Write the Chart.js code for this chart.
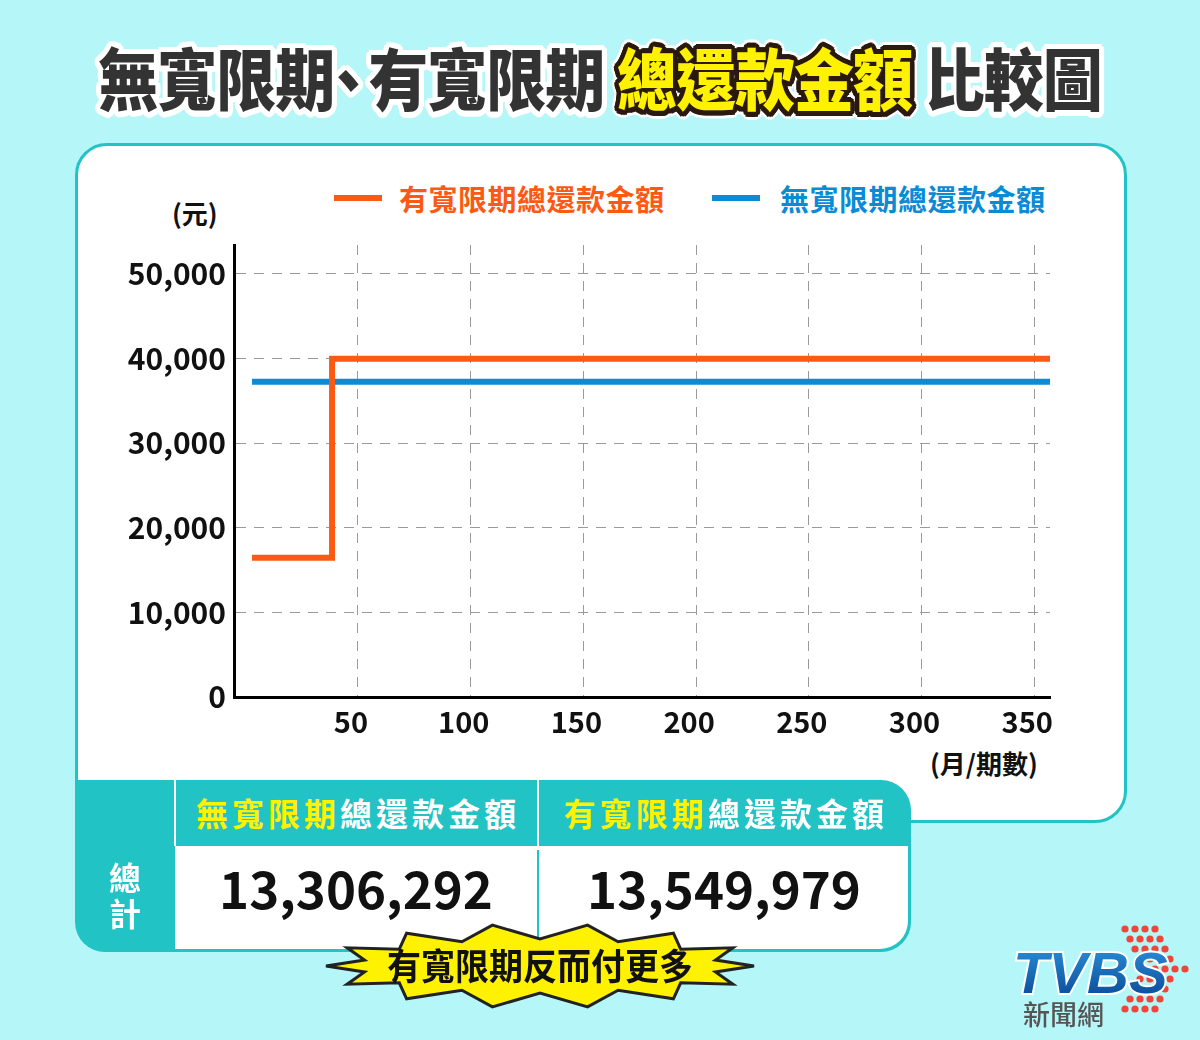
<!DOCTYPE html>
<html>
<head>
<meta charset="utf-8">
<script src="https://cdn.jsdelivr.net/npm/chart.js@4.4.1/dist/chart.umd.min.js"></script>
<style>
  html, body { margin: 0; padding: 0; }
  body {
    width: 1200px; height: 1040px; position: relative; overflow: hidden;
    background: #b5f6f8;
    font-family: "Noto Sans CJK TC", "Noto Sans CJK SC", sans-serif;
  }
  .abs { position: absolute; }
  #title {
    left: 0; width: 1200px; top: 32px; text-align: center;
    font-size: 60px; font-weight: 900; letter-spacing: -1px; white-space: nowrap;
    transform: scaleY(1.12);
  }
  #title .dark { color: #333; }
  #title .yel { color: #fff200; }
  #panel {
    left: 75px; top: 143px; width: 1046px; height: 674px;
    background: #fff; border: 3px solid #22c3c5; border-radius: 32px;
  }
  #chart-wrap { left: 0; top: 0; width: 1200px; height: 1040px; }
  .unit { font-weight: 700; font-size: 26px; color: #111; }
  .leg-line { height: 6px; width: 48px; }
  .leg-text { font-size: 29px; font-weight: 700; white-space: nowrap; letter-spacing: 0.5px; }
  #table { left: 75px; top: 780px; width: 836px; height: 172px; background: #22c3c5; border-radius: 0 30px 30px 30px; }
  .cell { position: absolute; text-align: center; white-space: nowrap; }
  .head { font-size: 32px; font-weight: 700; color: #fff; top: 9px; letter-spacing: 4px; }
  .head b { color: #fff200; font-weight: 700; }
  .num { font-size: 51px; font-weight: 700; color: #111; top: 70px; }
</style>
</head>
<body>
<div id="title" class="abs"></div>
<div id="panel" class="abs"></div>

<div class="abs unit" style="left:172px; top:194px;">(元)</div>
<div class="abs leg-line" style="left:334px; top:195px; background:#fc5a14;"></div>
<div class="abs leg-text" style="left:399px; top:177px; color:#fc5a14;">有寬限期總還款金額</div>
<div class="abs leg-line" style="left:712px; top:195px; background:#0b8ad6;"></div>
<div class="abs leg-text" style="left:780px; top:177px; color:#0b8ad6;">無寬限期總還款金額</div>
<div class="abs unit" style="left:930px; top:744px;">(月/期數)</div>

<div id="chart-wrap" class="abs"><canvas id="c"></canvas></div>

<div id="table" class="abs">
  <div class="abs" style="left:100px; top:66px; width:733px; height:103px; background:#fff; border-radius:0 0 28px 0;"></div>
  <div class="abs" style="left:99px; top:0; width:2px; height:66px; background:#fff;"></div>
  <div class="abs" style="left:462px; top:0; width:2px; height:66px; background:#fff;"></div>
  <div class="abs" style="left:462px; top:70px; width:2px; height:99px; background:#22c3c5;"></div>
  <div class="cell head" style="left:102px; width:362px;"><b>無寬限期</b>總還款金額</div>
  <div class="cell head" style="left:466px; width:370px;"><b>有寬限期</b>總還款金額</div>
  <div class="cell" style="left:0; width:100px; top:78px; font-size:32px; font-weight:700; color:#fff; line-height:36px;">總<br>計</div>
  <div class="cell num" style="left:100px; width:362px;" id="sum1"></div>
  <div class="cell num" style="left:464px; width:370px;" id="sum2"></div>
</div>

<svg class="abs" style="left:0; top:0;" width="1200" height="1040">
  <polygon id="burst" fill="#fff200" stroke="#222" stroke-width="3"></polygon>
</svg>
<div class="abs" style="left:330px; width:420px; top:940px; text-align:center; font-size:34px; font-weight:700; color:#111; transform:scaleY(1.08);">有寬限期反而付更多</div>

<canvas id="logo" class="abs" style="left:995px; top:915px;" width="205" height="125"></canvas>

<script>
// data
const monthTicks = [50, 100, 150, 200, 250, 300, 350];
const amountTicks = [0, 10000, 20000, 30000, 40000, 50000];
const graceMonths = [3, 38.5, 38.5, 357];
const graceAmounts = [16450, 16450, 39950, 39950];
const noGraceMonths = [3, 357];
const noGraceAmounts = [37250, 37250];
const totalNoGrace = 13306292;
const totalGrace = 13549979;

document.getElementById('sum1').textContent = totalNoGrace.toLocaleString('en-US');
document.getElementById('sum2').textContent = totalGrace.toLocaleString('en-US');

// title with outlines
function outline(r, color) {
    let out = [];
    for (let a = 0; a < 360; a += 20) {
        const rad = a * Math.PI / 180;
        out.push((r * Math.cos(rad)).toFixed(1) + 'px ' + (r * Math.sin(rad)).toFixed(1) + 'px 0 ' + color);
    }
    return out;
}
const title = document.getElementById('title');
title.innerHTML = '<span class="dark">無寬限期</span><span class="dark" style="margin-left:-16px; letter-spacing:-10px;">、</span><span class="dark">有寬限期</span> <span class="yel">總還款金額</span> <span class="dark">比較圖</span>';
title.querySelectorAll('.dark').forEach(function(el) {
    el.style.textShadow = outline(3, '#fff').concat(outline(5, '#fff')).join(',');
});
title.querySelectorAll('.yel').forEach(function(el) {
    el.style.textShadow = outline(2.5, '#2a1a10').concat(outline(4.5, '#2a1a10')).concat(outline(7, '#fff')).join(',');
});

// starburst behind the note
(function() {
    const cx = 540, cy = 966, spikes = 14;
    const pts = [];
    for (let i = 0; i < spikes * 2; i++) {
        const ang = Math.PI * i / spikes;
        const outer = i % 2 === 0;
        const rx = outer ? 214 : 180;
        const ry = outer ? 42 : 27;
        pts.push((cx + rx * Math.cos(ang)).toFixed(1) + ',' + (cy + ry * Math.sin(ang)).toFixed(1));
    }
    document.getElementById('burst').setAttribute('points', pts.join(' '));
})();

// logo
(function() {
    const ctx = document.getElementById('logo').getContext('2d');
    ctx.fillStyle = '#f0453a';
    const rows = [4, 4, 4, 4, 5, 4, 4, 4, 4];
    for (let r = 0; r < rows.length; r++) {
        const shift = 4 - Math.abs(r - 4);
        for (let c = 0; c < rows[r]; c++) {
            ctx.beginPath();
            ctx.arc(130 + shift * 5 + c * 10, 14 + r * 10, 3.6, 0, Math.PI * 2);
            ctx.fill();
        }
    }
    ctx.save();
    ctx.font = 'italic 900 58px "Liberation Sans", Arial, sans-serif';
    const g = ctx.createLinearGradient(0, 30, 0, 80);
    g.addColorStop(0, '#2b8fd6');
    g.addColorStop(1, '#0c4f9e');
    ctx.fillStyle = g;
    ctx.strokeStyle = '#fff';
    ctx.lineWidth = 4;
    ctx.strokeText('TVBS', 18, 78);
    ctx.fillText('TVBS', 18, 78);
    ctx.restore();
    ctx.font = '500 27px "Noto Sans CJK TC", sans-serif';
    ctx.fillStyle = '#555';
    ctx.fillText('新聞網', 28, 110);
})();

// chart
function toPoints(xs, ys) {
    return xs.map(function(x, i) { return { x: x, y: ys[i] }; });
}

new Chart(document.getElementById('c'), {
    type: 'line',
    data: {
        datasets: [{
            label: '有寬限期總還款金額',
            data: toPoints(graceMonths, graceAmounts),
            borderColor: '#fc5a14',
            borderWidth: 6,
            pointRadius: 0,
            borderJoinStyle: 'miter',
            borderCapStyle: 'butt',
            tension: 0
        }, {
            label: '無寬限期總還款金額',
            data: toPoints(noGraceMonths, noGraceAmounts),
            borderColor: '#0b8ad6',
            borderWidth: 6,
            pointRadius: 0,
            borderCapStyle: 'butt',
            tension: 0
        }]
    },
    options: {
        responsive: true,
        maintainAspectRatio: false,
        animation: false,
        layout: { padding: { left: 100, right: 150, top: 245, bottom: 283 } },
        plugins: { legend: { display: false }, tooltip: { enabled: false } },
        scales: {
            x: {
                type: 'linear',
                min: -5,
                max: 357,
                afterBuildTicks: function(s) { s.ticks = monthTicks.map(function(v) { return { value: v }; }); },
                afterFit: function(s) { s.height = 60; },
                grid: { color: '#9a9a9a', lineWidth: 1, drawTicks: false },
                border: { color: '#000', width: 3, dash: [10, 8] },
                ticks: {
                    color: '#111', padding: 8, maxRotation: 0, labelOffset: -7,
                    font: { family: '"Noto Sans CJK TC", sans-serif', size: 29, weight: 'bold' }
                }
            },
            y: {
                min: 0,
                max: 53400,
                afterBuildTicks: function(s) { s.ticks = amountTicks.map(function(v) { return { value: v }; }); },
                afterFit: function(s) { s.width = 134; },
                grid: { color: '#9a9a9a', lineWidth: 1, drawTicks: false },
                border: { color: '#000', width: 3, dash: [10, 8] },
                ticks: {
                    color: '#111', padding: 8,
                    font: { family: '"Noto Sans CJK TC", sans-serif', size: 30, weight: 'bold' },
                    callback: function(v) { return v.toLocaleString('en-US'); }
                }
            }
        }
    }
});
</script>
</body>
</html>
